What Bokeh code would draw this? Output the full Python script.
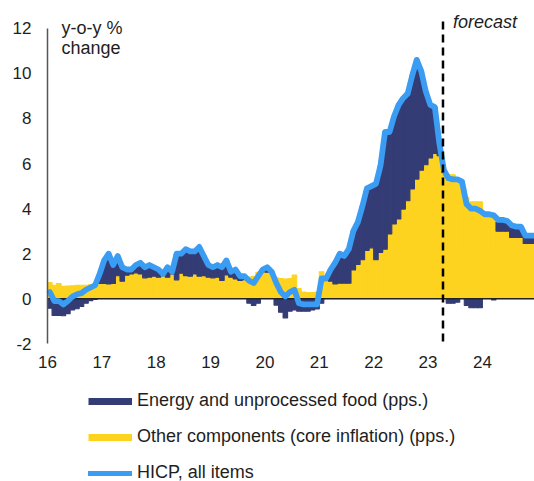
from bokeh.plotting import figure
from bokeh.models import Range1d, FixedTicker, Legend, LegendItem, ColumnDataSource
from bokeh.embed import file_html
from bokeh.resources import INLINE
from bokeh.core.properties import value

# ---------------- data (monthly, Jan 2016 - Dec 2024) ----------------
tick_labels = ["16", "17", "18", "19", "20", "21", "22", "23", "24"]
y_ticks = [-2, 0, 2, 4, 6, 8, 10, 12]

hicp = [
    0.3, -0.1, -0.1, -0.25, -0.1, 0.1, 0.2, 0.25, 0.4, 0.5, 0.6, 1.1,      # 2016
    1.7, 2.0, 1.5, 1.9, 1.4, 1.3, 1.3, 1.5, 1.6, 1.4, 1.5, 1.4,            # 2017
    1.3, 1.1, 1.4, 1.2, 2.0, 2.0, 2.2, 2.1, 2.1, 2.3, 1.9, 1.5,            # 2018
    1.4, 1.5, 1.4, 1.7, 1.2, 1.3, 1.0, 1.0, 0.8, 0.7, 1.0, 1.3,            # 2019
    1.4, 1.2, 0.7, 0.3, 0.1, 0.3, 0.4, -0.2, -0.25, -0.25, -0.25, -0.25,   # 2020
    0.9, 0.9, 1.3, 1.6, 2.0, 1.9, 2.2, 3.0, 3.4, 4.1, 4.9, 5.0,            # 2021
    5.1, 5.9, 7.4, 7.4, 8.1, 8.6, 8.9, 9.1, 9.9, 10.6, 10.1, 9.2,          # 2022
    8.6, 8.5, 6.9, 5.7, 5.35, 5.3, 5.3, 5.2, 4.2, 4.0, 4.0, 3.9,           # 2023
    3.75, 3.75, 3.7, 3.5, 3.5, 3.45, 3.25, 3.2, 3.2, 2.8, 2.8, 2.8,        # 2024
]

core = [
    0.72, 0.60, 0.68, 0.55, 0.57, 0.58, 0.60, 0.60, 0.60, 0.62, 0.65, 0.68,
    0.68, 0.66, 0.68, 1.02, 0.78, 1.05, 1.10, 1.15, 1.10, 0.93, 0.96, 1.00,
    0.96, 1.10, 0.96, 1.10, 0.84, 1.13, 1.03, 1.00, 1.10, 1.00, 1.03, 0.96,
    0.93, 0.96, 0.81, 1.06, 0.96, 0.88, 0.81, 0.85, 0.96, 1.00, 1.18, 1.20,
    1.18, 1.15, 0.93, 0.90, 0.88, 0.90, 1.05, 0.45, 0.30, 0.28, 0.28, 0.30,
    1.20, 0.81, 0.78, 0.66, 0.69, 0.69, 0.69, 1.28, 1.52, 1.73, 2.14, 2.26,
    1.73, 2.06, 2.20, 2.88, 3.32, 3.54, 3.98, 4.35, 4.87, 5.31, 5.70, 5.95,
    6.25, 6.45, 6.35, 5.60, 5.50, 5.50, 5.35, 5.20, 4.50, 4.30, 4.30, 4.30,
    3.75, 3.75, 3.75, 3.00, 3.00, 3.00, 2.72, 2.72, 2.72, 2.45, 2.45, 2.45,
]

energy = [
    -0.42, -0.74, -0.74, -0.75, -0.66, -0.50, -0.44, -0.34, -0.20, -0.08, -0.03, 0.42,
    1.02, 1.34, 0.82, 0.88, 0.62, 0.25, 0.20, 0.35, 0.50, 0.47, 0.54, 0.40,
    0.34, 0.00, 0.44, 0.10, 1.16, 0.87, 1.17, 1.10, 1.00, 1.30, 0.87, 0.54,
    0.47, 0.54, 0.59, 0.64, 0.24, 0.42, 0.19, 0.15, -0.20, -0.30, -0.20, 0.10,
    0.22, 0.05, -0.28, -0.60, -0.85, -0.55, -0.50, -0.55, -0.55, -0.55, -0.50, -0.45,
    -0.20, 0.09, 0.52, 0.94, 1.31, 1.21, 1.51, 1.72, 1.88, 2.37, 2.76, 2.74,
    3.37, 3.84, 5.20, 4.52, 4.78, 5.06, 4.92, 4.75, 5.03, 5.29, 4.40, 3.25,
    2.35, 2.05, 0.55, 0.10, -0.20, -0.20, -0.15, 0.00, -0.30, -0.40, -0.40, -0.40,
    0.00, 0.00, -0.05, 0.40, 0.40, 0.40, 0.40, 0.40, 0.40, 0.28, 0.28, 0.28,
]

forecast_start = 87.3   # months after Jan 2016 (start of projections)

# ---------------- styling ----------------
NAVY = "#343c75"
YELLOW = "#fdd320"
BLUE = "#3a9cf2"
FONT = "Liberation Sans"
TXT = "#1e1e1e"
NAN = float("nan")

n = len(hicp)
xs = [i + 0.5 for i in range(n)]
en_bottom = [c if e >= 0 else e for c, e in zip(core, energy)]
en_top = [c + e if e >= 0 else 0.0 for c, e in zip(core, energy)]

src = ColumnDataSource(dict(x=xs, core=core, zero=[0.0] * n,
                            en_bottom=en_bottom, en_top=en_top, hicp=hicp))

# frame fills the whole canvas; the axes are pinned inside it
p = figure(width=534, height=481, output_backend="svg", toolbar_location=None,
           x_range=Range1d(-10.375, 107.5), y_range=Range1d(-8.106, 13.234),
           min_border_left=0, min_border_right=0, min_border_top=0,
           min_border_bottom=0)
p.outline_line_color = None
p.grid.visible = False
p.background_fill_color = "white"

p.vbar(x="x", width=1.0, bottom="zero", top="core", source=src,
       fill_color=YELLOW, line_color=YELLOW, line_width=1.1)
p.vbar(x="x", width=1.0, bottom="en_bottom", top="en_top", source=src,
       fill_color=NAVY, line_color=NAVY, line_width=1.1)
p.segment(x0=[0], y0=[0], x1=[n], y1=[0], line_color="#222222", line_width=1.5)
p.line(x="x", y="hicp", source=src, line_color=BLUE, line_width=5.8,
       line_join="round", line_cap="round")
p.segment(x0=[forecast_start], y0=[-1.9], x1=[forecast_start], y1=[12.5],
          line_color="black", line_width=2.5, line_dash="8 5")

p.text(x=[forecast_start + 2.2], y=[12.26], text=["forecast"],
       text_font=value(FONT), text_font_size="18px", text_font_style="italic",
       text_color=TXT, text_baseline="middle", text_align="left")
p.text(x=[3.1, 3.1], y=[12.02, 11.13], text=["y-o-y %", "change"],
       text_font=value(FONT), text_font_size="18px",
       text_color=TXT, text_baseline="middle", text_align="left")

# axes
p.xaxis.fixed_location = -2
p.xaxis.ticker = FixedTicker(ticks=[12 * k for k in range(len(tick_labels))])
p.xaxis.major_label_overrides = {12 * k: lab for k, lab in enumerate(tick_labels)}
p.xaxis.axis_line_color = None
p.xaxis.major_tick_out = 0
p.xaxis.major_tick_in = 0
p.xaxis.minor_tick_out = 0
p.xaxis.minor_tick_in = 0
p.xaxis.major_label_standoff = 12
p.xaxis.major_label_text_font = FONT
p.xaxis.major_label_text_font_size = "17px"
p.xaxis.major_label_text_color = TXT

p.yaxis.fixed_location = 0
p.yaxis.ticker = FixedTicker(ticks=y_ticks)
p.yaxis.major_label_overrides = {t: str(t) for t in y_ticks}
p.yaxis.bounds = (-2, 12)
p.yaxis.axis_line_color = "#555555"
p.yaxis.axis_line_width = 1.5
p.yaxis.major_tick_out = 0
p.yaxis.major_tick_in = 0
p.yaxis.minor_tick_out = 0
p.yaxis.minor_tick_in = 0
p.yaxis.major_label_standoff = 16
p.yaxis.major_label_text_font = FONT
p.yaxis.major_label_text_font_size = "17px"
p.yaxis.major_label_text_color = TXT

# legend swatches (renderers holding a single NaN point, so nothing is drawn)
r_en = p.line(x=[NAN], y=[NAN], line_color=NAVY, line_width=7, line_cap="butt")
r_core = p.line(x=[NAN], y=[NAN], line_color=YELLOW, line_width=7, line_cap="butt")
r_hicp = p.line(x=[NAN], y=[NAN], line_color=BLUE, line_width=5, line_cap="round")

legend = Legend(items=[
    LegendItem(label="Energy and unprocessed food (pps.)", renderers=[r_en]),
    LegendItem(label="Other components (core inflation) (pps.)", renderers=[r_core]),
    LegendItem(label="HICP, all items", renderers=[r_hicp]),
], location=(88, -2), orientation="vertical",
    glyph_width=44, glyph_height=20, label_height=20, label_standoff=5,
    spacing=15, padding=0, margin=0, border_line_color=None,
    background_fill_alpha=0.0,
    label_text_font=FONT, label_text_font_size="18px", label_text_color=TXT)
p.add_layout(legend, "center")

open("out.html", "w").write(file_html(p, INLINE))
